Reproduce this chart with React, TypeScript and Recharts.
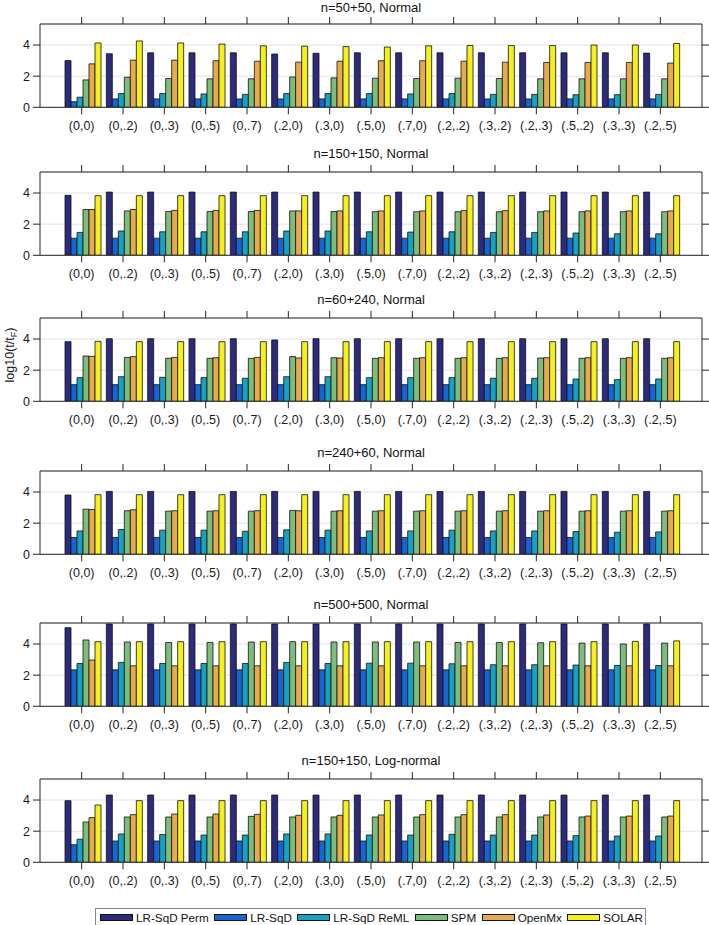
import { Bar, BarChart, CartesianGrid, XAxis, YAxis } from 'recharts'

const categories = ['(0,0)', '(0,.2)', '(0,.3)', '(0,.5)', '(0,.7)', '(.2,0)', '(.3,0)', '(.5,0)', '(.7,0)', '(.2,.2)', '(.3,.2)', '(.2,.3)', '(.5,.2)', '(.3,.3)', '(.2,.5)']
const seriesNames = ['LR-SqD Perm', 'LR-SqD', 'LR-SqD ReML', 'SPM', 'OpenMx', 'SOLAR']
const colors = ['#2e2a7d', '#1466d2', '#17a2c2', '#7dbd7c', '#e8aa4e', '#f5f01c']
const yTicks = [0, 2, 4]

// n=50+50, Normal
const n50Perm = [3.0, 3.44, 3.5, 3.5, 3.5, 3.42, 3.47, 3.5, 3.5, 3.5, 3.5, 3.5, 3.5, 3.5, 3.48]
const n50Sqd = [0.36, 0.54, 0.54, 0.54, 0.54, 0.54, 0.54, 0.54, 0.54, 0.54, 0.54, 0.54, 0.54, 0.54, 0.54]
const n50Reml = [0.65, 0.88, 0.88, 0.86, 0.83, 0.88, 0.88, 0.88, 0.86, 0.88, 0.83, 0.83, 0.81, 0.81, 0.83]
const n50Spm = [1.76, 1.93, 1.85, 1.83, 1.83, 1.95, 1.89, 1.87, 1.85, 1.87, 1.85, 1.83, 1.83, 1.83, 1.83]
const n50OpenMx = [2.79, 3.03, 3.03, 2.99, 2.96, 2.9, 2.96, 2.99, 2.99, 2.96, 2.9, 2.88, 2.88, 2.88, 2.84]
const n50Solar = [4.13, 4.26, 4.13, 4.06, 3.95, 3.93, 3.9, 3.87, 3.95, 3.97, 3.97, 3.97, 4.0, 4.0, 4.1]

// n=150+150, Normal
const n150Perm = [3.85, 4.06, 4.06, 4.06, 4.06, 4.06, 4.06, 4.06, 4.06, 4.06, 4.06, 4.06, 4.06, 4.06, 4.06]
const n150Sqd = [1.1, 1.1, 1.1, 1.1, 1.1, 1.1, 1.1, 1.1, 1.1, 1.1, 1.1, 1.1, 1.1, 1.1, 1.1]
const n150Reml = [1.47, 1.56, 1.51, 1.51, 1.51, 1.56, 1.56, 1.51, 1.49, 1.51, 1.47, 1.47, 1.43, 1.38, 1.38]
const n150Spm = [2.94, 2.85, 2.81, 2.81, 2.81, 2.85, 2.81, 2.8, 2.8, 2.8, 2.8, 2.8, 2.8, 2.8, 2.8]
const n150OpenMx = [2.94, 2.94, 2.88, 2.88, 2.88, 2.85, 2.85, 2.85, 2.85, 2.87, 2.87, 2.85, 2.85, 2.85, 2.85]
const n150Solar = [3.83, 3.83, 3.83, 3.83, 3.83, 3.83, 3.83, 3.83, 3.83, 3.83, 3.83, 3.83, 3.83, 3.83, 3.83]

// n=60+240, Normal
const n60Perm = [3.83, 4.02, 4.02, 4.02, 4.02, 3.94, 4.02, 4.02, 4.02, 4.02, 4.02, 4.02, 4.02, 4.02, 4.02]
const n60Sqd = [1.07, 1.07, 1.07, 1.07, 1.07, 1.07, 1.07, 1.07, 1.07, 1.07, 1.07, 1.07, 1.07, 1.07, 1.07]
const n60Reml = [1.52, 1.58, 1.54, 1.52, 1.48, 1.58, 1.58, 1.52, 1.52, 1.52, 1.48, 1.48, 1.43, 1.39, 1.43]
const n60Spm = [2.91, 2.82, 2.76, 2.76, 2.76, 2.87, 2.8, 2.76, 2.76, 2.76, 2.76, 2.78, 2.76, 2.76, 2.76]
const n60OpenMx = [2.89, 2.87, 2.82, 2.8, 2.82, 2.78, 2.78, 2.8, 2.8, 2.8, 2.8, 2.8, 2.8, 2.8, 2.8]
const n60Solar = [3.85, 3.83, 3.83, 3.83, 3.83, 3.83, 3.83, 3.83, 3.83, 3.83, 3.83, 3.83, 3.83, 3.83, 3.83]

// n=240+60, Normal
const n240Perm = [3.81, 4.04, 4.04, 4.04, 4.04, 4.04, 4.04, 4.04, 4.04, 4.04, 4.04, 4.04, 4.04, 4.04, 4.04]
const n240Sqd = [1.08, 1.08, 1.08, 1.08, 1.08, 1.08, 1.08, 1.08, 1.08, 1.08, 1.08, 1.08, 1.08, 1.08, 1.08]
const n240Reml = [1.5, 1.59, 1.55, 1.55, 1.48, 1.57, 1.55, 1.5, 1.5, 1.55, 1.5, 1.5, 1.46, 1.42, 1.44]
const n240Spm = [2.9, 2.8, 2.77, 2.77, 2.77, 2.82, 2.77, 2.77, 2.77, 2.77, 2.77, 2.77, 2.77, 2.77, 2.77]
const n240OpenMx = [2.88, 2.86, 2.8, 2.8, 2.8, 2.8, 2.8, 2.8, 2.8, 2.8, 2.8, 2.8, 2.8, 2.8, 2.8]
const n240Solar = [3.83, 3.83, 3.83, 3.83, 3.83, 3.83, 3.83, 3.83, 3.83, 3.83, 3.83, 3.83, 3.83, 3.83, 3.83]

// n=500+500, Normal
const n500Perm = [5.05, 5.29, 5.29, 5.29, 5.29, 5.29, 5.29, 5.29, 5.29, 5.29, 5.29, 5.29, 5.29, 5.29, 5.29]
const n500Sqd = [2.34, 2.34, 2.34, 2.34, 2.34, 2.34, 2.34, 2.34, 2.34, 2.34, 2.34, 2.34, 2.34, 2.34, 2.34]
const n500Reml = [2.75, 2.82, 2.75, 2.75, 2.75, 2.82, 2.75, 2.77, 2.77, 2.73, 2.67, 2.67, 2.65, 2.62, 2.62]
const n500Spm = [4.26, 4.13, 4.1, 4.1, 4.13, 4.15, 4.13, 4.13, 4.13, 4.1, 4.1, 4.08, 4.06, 4.0, 4.06]
const n500OpenMx = [2.97, 2.6, 2.6, 2.6, 2.6, 2.6, 2.6, 2.6, 2.6, 2.6, 2.6, 2.6, 2.6, 2.6, 2.6]
const n500Solar = [4.15, 4.15, 4.15, 4.15, 4.15, 4.15, 4.15, 4.15, 4.15, 4.15, 4.15, 4.15, 4.15, 4.17, 4.2]

// n=150+150, Log-normal
const logPerm = [3.96, 4.32, 4.32, 4.32, 4.32, 4.32, 4.32, 4.32, 4.32, 4.32, 4.32, 4.32, 4.32, 4.32, 4.32]
const logSqd = [1.13, 1.37, 1.37, 1.37, 1.37, 1.37, 1.37, 1.37, 1.37, 1.37, 1.37, 1.37, 1.37, 1.37, 1.37]
const logReml = [1.48, 1.82, 1.78, 1.75, 1.75, 1.82, 1.82, 1.75, 1.75, 1.8, 1.75, 1.75, 1.71, 1.69, 1.69]
const logSpm = [2.59, 2.91, 2.91, 2.91, 2.95, 2.91, 2.91, 2.91, 2.91, 2.91, 2.91, 2.91, 2.91, 2.91, 2.91]
const logOpenMx = [2.87, 3.06, 3.1, 3.1, 3.08, 3.02, 3.02, 3.04, 3.06, 3.06, 3.06, 3.04, 2.97, 2.97, 2.97]
const logSolar = [3.68, 3.96, 3.96, 3.96, 3.96, 3.96, 3.96, 3.96, 3.96, 3.96, 3.96, 3.96, 3.96, 3.96, 3.96]

const panels = [
  { title: 'n=50+50, Normal', top: 24.3, series: [n50Perm, n50Sqd, n50Reml, n50Spm, n50OpenMx, n50Solar] },
  { title: 'n=150+150, Normal', top: 171.7, series: [n150Perm, n150Sqd, n150Reml, n150Spm, n150OpenMx, n150Solar] },
  { title: 'n=60+240, Normal', top: 318.3, series: [n60Perm, n60Sqd, n60Reml, n60Spm, n60OpenMx, n60Solar] },
  { title: 'n=240+60, Normal', top: 470.7, series: [n240Perm, n240Sqd, n240Reml, n240Spm, n240OpenMx, n240Solar] },
  { title: 'n=500+500, Normal', top: 622.7, series: [n500Perm, n500Sqd, n500Reml, n500Spm, n500OpenMx, n500Solar] },
  { title: 'n=150+150, Log-normal', top: 779.3, series: [logPerm, logSqd, logReml, logSpm, logOpenMx, logSolar] },
]

const font = '"Liberation Sans", Arial, Helvetica, sans-serif'
const axisColor = '#262626'
const plotH = 83.3
const chartH = 140
const topSpace = 24
const xAxisH = 30

const noLabel = () => <g />

function Panel({ title, top, series }: { title: string; top: number; series: number[][] }) {
  const data = categories.map((cat, i) => {
    const row: Record<string, string | number> = { cat }
    series.forEach((vals, s) => { row['s' + s] = vals[i] })
    return row
  })
  return <>
    <div style={{ position: 'absolute', left: 40, width: 662, top: Math.max(1, top - 25), height: 14, lineHeight: '14px', textAlign: 'center', fontSize: 13, color: '#111', whiteSpace: 'nowrap' }}>{title}</div>
    <div style={{ position: 'absolute', left: 0, top: top - topSpace }}>
      <BarChart width={709} height={chartH} data={data} barCategoryGap={4} barGap={0}
        margin={{ top: topSpace - 1, right: 6, left: 8, bottom: chartH - topSpace - plotH - xAxisH }}>
        <CartesianGrid vertical={false} stroke="#e2e2e2" xAxisId="bottom" yAxisId="left" />
        <XAxis xAxisId="bottom" dataKey="cat" interval={0} height={xAxisH} tickSize={7} tickMargin={7}
          padding={{ left: 21, right: 21 }} axisLine={{ stroke: axisColor }} tickLine={{ stroke: axisColor }}
          tick={{ fill: '#1a1a1a', fontSize: 12.5 }} />
        <XAxis xAxisId="top" dataKey="cat" orientation="top" interval={0} height={1} tickSize={7} tick={noLabel}
          padding={{ left: 21, right: 21 }} axisLine={{ stroke: axisColor }} tickLine={{ stroke: axisColor }} />
        <YAxis yAxisId="left" width={32} domain={[0, 5.35]} ticks={yTicks} allowDataOverflow tickSize={7} tickMargin={3}
          axisLine={{ stroke: axisColor }} tickLine={{ stroke: axisColor }} tick={{ fill: '#1a1a1a', fontSize: 12.5 }} />
        <YAxis yAxisId="right" orientation="right" width={1} domain={[0, 5.35]} ticks={yTicks} allowDataOverflow tickSize={7} tick={noLabel}
          axisLine={{ stroke: axisColor }} tickLine={{ stroke: axisColor }} />
        {seriesNames.map((name, s) => (
          <Bar key={name} name={name} dataKey={'s' + s} xAxisId="bottom" yAxisId="left" fill={colors[s]}
            stroke="#111" strokeWidth={0.8} isAnimationActive={false} />
        ))}
      </BarChart>
    </div>
  </>
}

export default function App() {
  return <div style={{ position: 'absolute', left: 0, top: 0, width: 709, height: 925, overflow: 'hidden', background: '#fff', fontFamily: font }}>
    {panels.map(p => <Panel key={p.title} title={p.title} top={p.top} series={p.series} />)}
    <svg style={{ position: 'absolute', left: 0, top: 280 }} width={24} height={160}>
      <text transform="translate(14,75) rotate(-90)" textAnchor="middle" fontSize={12.5} fill="#1a1a1a" fontFamily={font}>
        log10(t/t<tspan fontSize={9} dy={3}>F</tspan><tspan dy={-3}>)</tspan>
      </text>
    </svg>
    <div style={{ position: 'absolute', left: 95, top: 908, width: 551, height: 17, boxSizing: 'border-box', border: '1px solid #8a8a8a', borderBottom: 'none', display: 'flex', alignItems: 'center', paddingLeft: 4, fontSize: 11.7, color: '#111' }}>
      {seriesNames.map((name, s) => (
        <span key={name} style={{ display: 'flex', alignItems: 'center', marginRight: 5.5, whiteSpace: 'nowrap' }}>
          <i style={{ display: 'inline-block', width: 33, height: 7, boxSizing: 'border-box', background: colors[s], border: '1px solid #111', marginRight: 3 }} />
          {name}
        </span>
      ))}
    </div>
  </div>
}
